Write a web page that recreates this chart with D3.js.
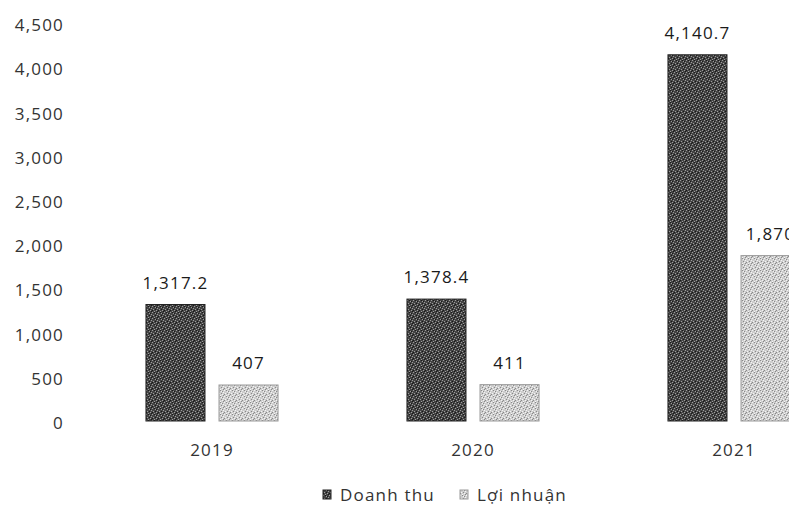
<!DOCTYPE html>
<html>
<head>
<meta charset="utf-8">
<script src="https://cdn.jsdelivr.net/npm/d3@7"></script>
<style>
  body { margin: 0; background: #fff; }
  svg { display: block; font-family: "Open Sans", "DejaVu Sans", sans-serif; }
</style>
</head>
<body>
<div id="chart"></div>
<script>
const years = ["2019", "2020", "2021"];
const seriesNames = ["Doanh thu", "Lợi nhuận"];
const doanhThu = [1317.2, 1378.4, 4140.7];
const loiNhuan = [407, 411, 1870];
const valueLabels = [["1,317.2", "407"], ["1,378.4", "411"], ["4,140.7", "1,870"]];
const yTicks = [0, 500, 1000, 1500, 2000, 2500, 3000, 3500, 4000, 4500];

const width = 789, height = 509;
const svg = d3.select("#chart").append("svg")
  .attr("width", width).attr("height", height);

// speckled fills like the scanned original
const defs = svg.append("defs");
function speckle(id, base, dot, dot2) {
  const p = defs.append("pattern").attr("id", id)
    .attr("patternUnits", "userSpaceOnUse").attr("width", 6).attr("height", 6);
  p.append("rect").attr("width", 6).attr("height", 6).attr("fill", base);
  [[0, 0], [3, 1], [1, 3], [4, 4], [5, 2], [2, 5]].forEach(([x, y]) =>
    p.append("rect").attr("x", x).attr("y", y).attr("width", 1).attr("height", 1).attr("fill", dot));
  [[2, 0], [0, 4], [4, 1], [3, 3], [5, 5]].forEach(([x, y]) =>
    p.append("rect").attr("x", x).attr("y", y).attr("width", 1).attr("height", 1).attr("fill", dot2));
}
speckle("darkFill", "#444", "#a0a0a0", "#161616");
speckle("lightFill", "#cdcdcd", "#f6f6f6", "#888");
const fills = ["url(#darkFill)", "url(#lightFill)"];
const borders = ["#222", "#999"];

const y = d3.scaleLinear().domain([0, 4500]).range([421, 23]);
const x0 = d3.scaleBand().domain(years).range([81.5, 864.5])
  .paddingInner(0.494).paddingOuter(0.247);
const x1 = d3.scaleBand().domain(seriesNames).range([0, x0.bandwidth()])
  .paddingInner(0.192);

const txt = sel => sel.attr("font-family", "'Open Sans', sans-serif")
  .attr("font-size", 17).attr("letter-spacing", 1.2);

// y axis labels only
const yAxis = svg.append("g").attr("transform", "translate(64,0)")
  .call(d3.axisLeft(y).tickValues(yTicks).tickSize(0).tickPadding(0)
    .tickFormat(d3.format(",")));
yAxis.select(".domain").remove();
yAxis.selectAll("text").call(txt).attr("fill", "#333").attr("dy", "0.45em");

// x axis labels
const xAxis = svg.append("g").attr("transform", "translate(0,444)")
  .call(d3.axisBottom(x0).tickSize(0).tickPadding(0));
xAxis.select(".domain").remove();
xAxis.selectAll("text").call(txt).attr("fill", "#333");

const rows = years.map((yr, i) => ({ year: yr, values: [doanhThu[i], loiNhuan[i]], labels: valueLabels[i] }));

const groups = svg.selectAll(".grp").data(rows).enter().append("g")
  .attr("class", "grp")
  .attr("transform", d => `translate(${x0(d.year)},0)`);

groups.selectAll("rect").data(d => d.values.map((v, k) => ({ key: seriesNames[k], v, k })))
  .enter().append("rect")
  .attr("x", d => x1(d.key))
  .attr("width", x1.bandwidth())
  .attr("y", d => y(d.v))
  .attr("height", d => y(0) - y(d.v))
  .attr("fill", d => fills[d.k])
  .attr("stroke", d => borders[d.k])
  .attr("stroke-width", 1);

groups.selectAll(".lbl").data(d => d.values.map((v, k) => ({ key: seriesNames[k], v, label: d.labels[k] })))
  .enter().append("text")
  .attr("class", "lbl")
  .attr("x", d => x1(d.key) + x1.bandwidth() / 2)
  .attr("y", d => y(d.v) - 16)
  .attr("text-anchor", "middle")
  .call(txt)
  .attr("fill", "#1a1a1a")
  .text(d => d.label);

// legend
const legend = svg.append("g").attr("transform", "translate(0,495)");
const legendX = [323, 460];
seriesNames.forEach((name, k) => {
  const g = legend.append("g").attr("transform", `translate(${legendX[k]},0)`);
  g.append("rect").attr("x", 0).attr("y", -5).attr("width", 8).attr("height", 9)
    .attr("fill", fills[k]).attr("stroke", borders[k]);
  g.append("text").attr("x", 17).attr("y", 0).attr("dy", "0.35em")
    .call(txt).attr("fill", "#333").text(name);
});
</script>
</body>
</html>
